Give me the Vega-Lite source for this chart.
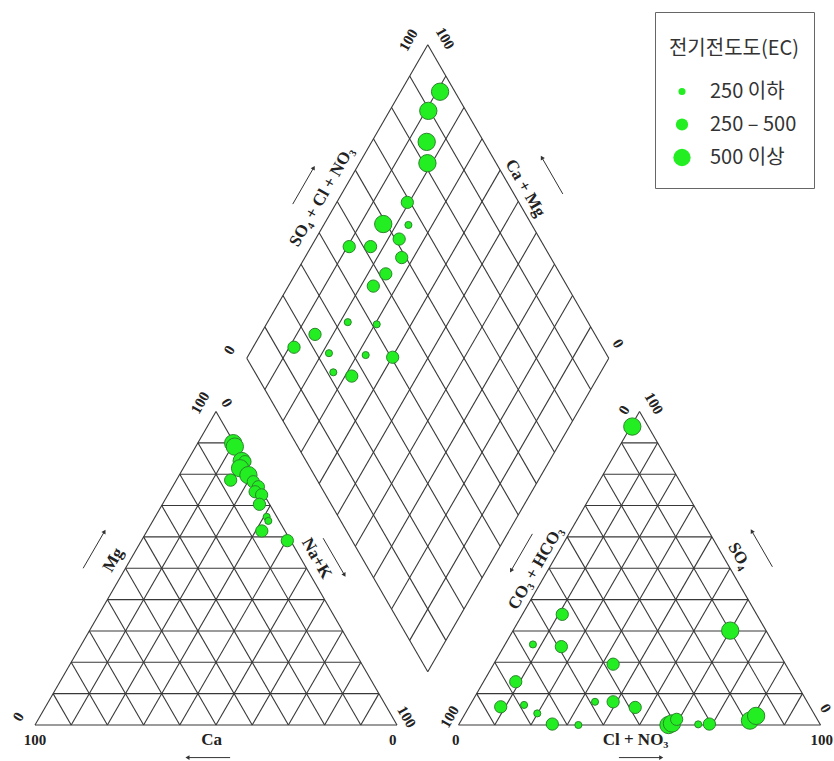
{
  "$schema": "https://vega.github.io/schema/vega-lite/v6.json",
  "description": "Piper diagram: cation triangle, anion triangle and central diamond, symbols sized by electrical conductivity (EC).",
  "width": 834,
  "height": 761,
  "padding": 0,
  "autosize": {"type": "none"},
  "background": "white",
  "config": {"view": {"stroke": null}},
  "datasets": {
    "levels": [
      {"k": 0}, {"k": 10}, {"k": 20}, {"k": 30}, {"k": 40}, {"k": 50},
      {"k": 60}, {"k": 70}, {"k": 80}, {"k": 90}, {"k": 100}
    ],
    "samples": [
      {"plot": "cation", "Ca": 0.3, "Mg": 89.9, "EC": "500 이상"},
      {"plot": "cation", "Ca": 0.4, "Mg": 88.8, "EC": "500 이상"},
      {"plot": "cation", "Ca": 0.8, "Mg": 84.2, "EC": "500 이상"},
      {"plot": "cation", "Ca": 0.0, "Mg": 84.0, "EC": "250 – 500"},
      {"plot": "cation", "Ca": 2.4, "Mg": 81.9, "EC": "500 이상"},
      {"plot": "cation", "Ca": 1.2, "Mg": 79.7, "EC": "500 이상"},
      {"plot": "cation", "Ca": 6.9, "Mg": 78.1, "EC": "250 – 500"},
      {"plot": "cation", "Ca": 0.9, "Mg": 77.6, "EC": "250 – 500"},
      {"plot": "cation", "Ca": 0.3, "Mg": 76.0, "EC": "250 – 500"},
      {"plot": "cation", "Ca": 2.0, "Mg": 74.4, "EC": "250 – 500"},
      {"plot": "cation", "Ca": 0.7, "Mg": 73.4, "EC": "250 – 500"},
      {"plot": "cation", "Ca": 2.8, "Mg": 70.4, "EC": "250 – 500"},
      {"plot": "cation", "Ca": 2.8, "Mg": 66.4, "EC": "250 이하"},
      {"plot": "cation", "Ca": 3.0, "Mg": 65.1, "EC": "250 이하"},
      {"plot": "cation", "Ca": 6.4, "Mg": 61.9, "EC": "250 – 500"},
      {"plot": "cation", "Ca": 0.9, "Mg": 58.8, "EC": "250 – 500"},

      {"plot": "anion", "Cl": 0.4, "SO4": 95.2, "EC": "500 이상"},
      {"plot": "anion", "Cl": 11.0, "SO4": 35.3, "EC": "250 – 500"},
      {"plot": "anion", "Cl": 60.0, "SO4": 30.1, "EC": "500 이상"},
      {"plot": "anion", "Cl": 7.7, "SO4": 25.7, "EC": "250 이하"},
      {"plot": "anion", "Cl": 15.9, "SO4": 25.0, "EC": "250 – 500"},
      {"plot": "anion", "Cl": 33.0, "SO4": 19.4, "EC": "250 – 500"},
      {"plot": "anion", "Cl": 8.9, "SO4": 13.8, "EC": "250 – 500"},
      {"plot": "anion", "Cl": 8.75, "SO4": 5.8, "EC": "250 – 500"},
      {"plot": "anion", "Cl": 14.9, "SO4": 6.4, "EC": "250 이하"},
      {"plot": "anion", "Cl": 19.9, "SO4": 3.7, "EC": "250 이하"},
      {"plot": "anion", "Cl": 25.75, "SO4": 0.3, "EC": "250 – 500"},
      {"plot": "anion", "Cl": 33.1, "SO4": 0.0, "EC": "250 이하"},
      {"plot": "anion", "Cl": 34.0, "SO4": 7.4, "EC": "250 이하"},
      {"plot": "anion", "Cl": 39.0, "SO4": 7.4, "EC": "250 – 500"},
      {"plot": "anion", "Cl": 46.0, "SO4": 5.6, "EC": "250 – 500"},
      {"plot": "anion", "Cl": 58.0, "SO4": 0.0, "EC": "500 이상"},
      {"plot": "anion", "Cl": 58.7, "SO4": 0.5, "EC": "500 이상"},
      {"plot": "anion", "Cl": 59.35, "SO4": 1.8, "EC": "250 – 500"},
      {"plot": "anion", "Cl": 66.1, "SO4": 0.2, "EC": "250 이하"},
      {"plot": "anion", "Cl": 69.15, "SO4": 0.3, "EC": "250 – 500"},
      {"plot": "anion", "Cl": 79.8, "SO4": 1.4, "EC": "500 이상"},
      {"plot": "anion", "Cl": 80.75, "SO4": 2.9, "EC": "500 이상"},

      {"plot": "diamond", "SO4Cl": 95.9, "CaMg": 89.1, "EC": "500 이상"},
      {"plot": "diamond", "SO4Cl": 89.6, "CaMg": 89.3, "EC": "500 이상"},
      {"plot": "diamond", "SO4Cl": 84.2, "CaMg": 84.8, "EC": "500 이상"},
      {"plot": "diamond", "SO4Cl": 81.0, "CaMg": 81.2, "EC": "500 이상"},
      {"plot": "diamond", "SO4Cl": 69.2, "CaMg": 80.5, "EC": "250 – 500"},
      {"plot": "diamond", "SO4Cl": 59.1, "CaMg": 83.7, "EC": "500 이상"},
      {"plot": "diamond", "SO4Cl": 65.9, "CaMg": 76.6, "EC": "250 이하"},
      {"plot": "diamond", "SO4Cl": 61.1, "CaMg": 76.9, "EC": "250 – 500"},
      {"plot": "diamond", "SO4Cl": 46.1, "CaMg": 89.5, "EC": "250 – 500"},
      {"plot": "diamond", "SO4Cl": 52.0, "CaMg": 83.6, "EC": "250 – 500"},
      {"plot": "diamond", "SO4Cl": 58.85, "CaMg": 73.25, "EC": "250 – 500"},
      {"plot": "diamond", "SO4Cl": 51.85, "CaMg": 75.05, "EC": "250 – 500"},
      {"plot": "diamond", "SO4Cl": 46.45, "CaMg": 76.55, "EC": "250 – 500"},
      {"plot": "diamond", "SO4Cl": 33.65, "CaMg": 77.85, "EC": "250 이하"},
      {"plot": "diamond", "SO4Cl": 41.3, "CaMg": 69.5, "EC": "250 이하"},
      {"plot": "diamond", "SO4Cl": 22.65, "CaMg": 84.95, "EC": "250 – 500"},
      {"plot": "diamond", "SO4Cl": 14.8, "CaMg": 88.7, "EC": "250 – 500"},
      {"plot": "diamond", "SO4Cl": 23.5, "CaMg": 78.1, "EC": "250 이하"},
      {"plot": "diamond", "SO4Cl": 33.35, "CaMg": 67.65, "EC": "250 이하"},
      {"plot": "diamond", "SO4Cl": 40.45, "CaMg": 59.85, "EC": "250 – 500"},
      {"plot": "diamond", "SO4Cl": 21.65, "CaMg": 73.85, "EC": "250 이하"},
      {"plot": "diamond", "SO4Cl": 26.15, "CaMg": 68.15, "EC": "250 – 500"}
    ],
    "labels": [
      {"text": "100", "x": 45.6, "y": 89.0, "dir": "up", "kind": "tick"},
      {"text": "0", "x": 53.0, "y": 89.0, "dir": "down", "kind": "tick"},
      {"text": "0", "x": -4.6, "y": 2.3, "dir": "up", "kind": "tick"},
      {"text": "100", "x": 0.0, "y": -4.1, "dir": "flat", "kind": "tick"},
      {"text": "Ca", "x": 48.8, "y": -4.1, "dir": "flat", "kind": "title"},
      {"text": "0", "x": 98.8, "y": -4.1, "dir": "flat", "kind": "tick"},
      {"text": "100", "x": 102.7, "y": 2.3, "dir": "down", "kind": "tick"},
      {"text": "Mg", "x": 21.6, "y": 45.6, "dir": "up", "kind": "title"},
      {"text": "Na+K", "x": 77.8, "y": 46.0, "dir": "down", "kind": "title"},
      {"text": "100", "x": 103.1, "y": 189.2, "dir": "up", "kind": "tick"},
      {"text": "100", "x": 113.3, "y": 189.7, "dir": "down", "kind": "tick"},
      {"text": "SO₄ + Cl + NO₃", "x": 79.2, "y": 145.9, "dir": "up", "kind": "title"},
      {"text": "Ca + Mg", "x": 135.4, "y": 148.3, "dir": "down", "kind": "title"},
      {"text": "0", "x": 53.7, "y": 103.6, "dir": "up", "kind": "tick"},
      {"text": "0", "x": 161.1, "y": 105.4, "dir": "down", "kind": "tick"},
      {"text": "0", "x": 162.7, "y": 87.0, "dir": "up", "kind": "tick"},
      {"text": "100", "x": 171.0, "y": 88.9, "dir": "down", "kind": "tick"},
      {"text": "CO₃ + HCO₃", "x": 138.3, "y": 43.3, "dir": "up", "kind": "title"},
      {"text": "SO₄", "x": 194.5, "y": 46.7, "dir": "down", "kind": "title"},
      {"text": "100", "x": 114.5, "y": 2.3, "dir": "up", "kind": "tick"},
      {"text": "0", "x": 116.2, "y": -4.1, "dir": "flat", "kind": "tick"},
      {"text": "Cl + NO₃", "x": 165.9, "y": -4.1, "dir": "flat", "kind": "title"},
      {"text": "100", "x": 217.3, "y": -4.1, "dir": "flat", "kind": "tick"},
      {"text": "0", "x": 218.4, "y": 4.6, "dir": "down", "kind": "tick"}
    ],
    "arrows": [
      {"axis": "Ca", "x": 53.9, "y": -9.0, "x2": 42.3, "y2": -9.0},
      {"axis": "Mg", "x": 13.3, "y": 43.3, "x2": 19.1, "y2": 53.3},
      {"axis": "Na+K", "x": 79.6, "y": 51.6, "x2": 85.4, "y2": 41.6},
      {"axis": "SO4+Cl+NO3", "x": 71.2, "y": 143.9, "x2": 76.9, "y2": 153.8},
      {"axis": "Ca+Mg", "x": 145.8, "y": 146.7, "x2": 140.1, "y2": 156.6},
      {"axis": "CO3+HCO3", "x": 137.4, "y": 52.8, "x2": 131.6, "y2": 42.8},
      {"axis": "SO4", "x": 203.7, "y": 43.7, "x2": 198.1, "y2": 53.4},
      {"axis": "Cl+NO3", "x": 161.3, "y": -9.0, "x2": 172.8, "y2": -9.0}
    ]
  },
  "layer": [
    {
      "description": "Grid lines every 10 % for both triangles and the diamond",
      "data": {"name": "levels"},
      "transform": [
        {"calculate": "datum.k", "as": "Mg"},
        {"calculate": "datum.k", "as": "Ca"},
        {"calculate": "datum.k", "as": "NaK"},
        {"calculate": "datum.k", "as": "SO4"},
        {"calculate": "datum.k", "as": "HCO3"},
        {"calculate": "datum.k", "as": "Cl"},
        {"calculate": "datum.k", "as": "SO4Cl"},
        {"calculate": "datum.k", "as": "CaMg"},
        {"fold": ["Mg", "Ca", "NaK", "SO4", "HCO3", "Cl", "SO4Cl", "CaMg"], "as": ["fam", "lv"]},
        {"calculate": "indexof(['SO4', 'HCO3', 'Cl'], datum.fam) >= 0 ? 117 : 0", "as": "off"},
        {"calculate": "(datum.fam === 'Mg' || datum.fam === 'SO4') ? datum.off + datum.lv / 2 : (datum.fam === 'Ca' || datum.fam === 'HCO3') ? datum.off + 100 - datum.lv : (datum.fam === 'NaK' || datum.fam === 'Cl') ? datum.off + datum.lv : datum.fam === 'SO4Cl' ? 108.5 + datum.lv / 2 : 108.5 - datum.lv / 2", "as": "xa"},
        {"calculate": "(datum.fam === 'Mg' || datum.fam === 'SO4') ? datum.lv * 0.8660254 : (datum.fam === 'SO4Cl' || datum.fam === 'CaMg') ? 14.7224 + 0.8660254 * datum.lv : 0", "as": "ya"},
        {"calculate": "(datum.fam === 'Mg' || datum.fam === 'SO4') ? datum.off + 100 - datum.lv / 2 : (datum.fam === 'Ca' || datum.fam === 'HCO3') ? datum.off + (100 - datum.lv) / 2 : (datum.fam === 'NaK' || datum.fam === 'Cl') ? datum.off + 50 + datum.lv / 2 : datum.fam === 'SO4Cl' ? 108.5 + (datum.lv - 100) / 2 : 108.5 + (100 - datum.lv) / 2", "as": "xb"},
        {"calculate": "(datum.fam === 'Mg' || datum.fam === 'SO4') ? datum.lv * 0.8660254 : (datum.fam === 'SO4Cl' || datum.fam === 'CaMg') ? 14.7224 + 0.8660254 * (datum.lv + 100) : (100 - datum.lv) * 0.8660254", "as": "yb"}
      ],
      "mark": {"type": "rule", "color": "#383838", "strokeWidth": 1.1},
      "encoding": {
        "x": {"field": "xa", "type": "quantitative", "axis": null, "scale": {"domain": [-9.669, 220.718], "nice": false, "zero": false}},
        "y": {"field": "ya", "type": "quantitative", "axis": null, "scale": {"domain": [-9.945, 200.276], "nice": false, "zero": false}},
        "x2": {"field": "xb"},
        "y2": {"field": "yb"}
      }
    },
    {
      "description": "Direction arrows beside each axis title",
      "data": {"name": "arrows"},
      "mark": {"type": "rule", "color": "#333333", "strokeWidth": 1},
      "encoding": {
        "x": {"field": "x", "type": "quantitative", "axis": null, "scale": {"domain": [-9.669, 220.718], "nice": false, "zero": false}},
        "y": {"field": "y", "type": "quantitative", "axis": null, "scale": {"domain": [-9.945, 200.276], "nice": false, "zero": false}},
        "x2": {"field": "x2"},
        "y2": {"field": "y2"}
      }
    },
    {
      "data": {"name": "arrows"},
      "transform": [
        {"calculate": "atan2(datum.x2 - datum.x, datum.y2 - datum.y) * 180 / PI", "as": "ang"}
      ],
      "mark": {"type": "point", "shape": "triangle", "filled": true, "color": "#333333", "opacity": 1, "size": 22},
      "encoding": {
        "x": {"field": "x2", "type": "quantitative", "axis": null, "scale": {"domain": [-9.669, 220.718], "nice": false, "zero": false}},
        "y": {"field": "y2", "type": "quantitative", "axis": null, "scale": {"domain": [-9.945, 200.276], "nice": false, "zero": false}},
        "angle": {"field": "ang", "type": "quantitative", "scale": null}
      }
    },
    {
      "description": "Samples projected onto the Piper plot",
      "data": {"name": "samples"},
      "transform": [
        {"calculate": "datum.plot === 'cation' ? (100 - datum.Ca - datum.Mg) + datum.Mg / 2 : datum.plot === 'anion' ? 117 + datum.Cl + datum.SO4 / 2 : 108.5 + (datum.SO4Cl - datum.CaMg) / 2", "as": "px"},
        {"calculate": "datum.plot === 'cation' ? datum.Mg * 0.8660254 : datum.plot === 'anion' ? datum.SO4 * 0.8660254 : 14.7224 + 0.8660254 * (datum.SO4Cl + datum.CaMg)", "as": "py"}
      ],
      "mark": {"type": "circle", "fill": "#22ee22", "stroke": "#2b862b", "strokeWidth": 1, "opacity": 1},
      "encoding": {
        "x": {"field": "px", "type": "quantitative", "axis": null, "scale": {"domain": [-9.669, 220.718], "nice": false, "zero": false}},
        "y": {"field": "py", "type": "quantitative", "axis": null, "scale": {"domain": [-9.945, 200.276], "nice": false, "zero": false}},
        "size": {
          "field": "EC",
          "type": "ordinal",
          "scale": {"type": "ordinal", "domain": ["250 이하", "250 – 500", "500 이상"], "range": [50, 150, 300]},
          "legend": {
            "title": ["", "전기전도도(EC)"],
            "orient": "none",
            "legendX": 655,
            "legendY": 12,
            "padding": 14,
            "fillColor": "white",
            "strokeColor": "#666666",
            "titleAnchor": "middle",
            "titleFont": "Noto Sans CJK KR",
            "titleFontSize": 20,
            "titleLineHeight": 13,
            "titleFontWeight": "normal",
            "titleColor": "#333333",
            "titlePadding": 16,
            "titleLimit": 400,
            "labelFont": "Noto Sans CJK KR",
            "labelFontSize": 20,
            "labelColor": "#333333",
            "labelOffset": 18,
            "rowPadding": 0,
            "clipHeight": 33,
            "symbolType": "circle",
            "symbolFillColor": "#22ee22",
            "symbolStrokeColor": "#2b862b",
            "symbolStrokeWidth": 1,
            "symbolOpacity": 1
          }
        }
      }
    },
    {
      "data": {"name": "labels"},
      "transform": [{"filter": "datum.dir === 'flat'"}],
      "mark": {"type": "text", "font": "Liberation Serif", "fontWeight": "bold", "color": "#222222", "align": "center", "baseline": "middle"},
      "encoding": {
        "x": {"field": "x", "type": "quantitative", "axis": null, "scale": {"domain": [-9.669, 220.718], "nice": false, "zero": false}},
        "y": {"field": "y", "type": "quantitative", "axis": null, "scale": {"domain": [-9.945, 200.276], "nice": false, "zero": false}},
        "text": {"field": "text"},
        "size": {"condition": {"test": "datum.kind === 'title'", "value": 17}, "value": 15}
      }
    },
    {
      "data": {"name": "labels"},
      "transform": [{"filter": "datum.dir === 'up'"}],
      "mark": {"type": "text", "font": "Liberation Serif", "fontWeight": "bold", "color": "#222222", "align": "center", "baseline": "middle", "angle": -60},
      "encoding": {
        "x": {"field": "x", "type": "quantitative", "axis": null, "scale": {"domain": [-9.669, 220.718], "nice": false, "zero": false}},
        "y": {"field": "y", "type": "quantitative", "axis": null, "scale": {"domain": [-9.945, 200.276], "nice": false, "zero": false}},
        "text": {"field": "text"},
        "size": {"condition": {"test": "datum.kind === 'title'", "value": 17}, "value": 15}
      }
    },
    {
      "data": {"name": "labels"},
      "transform": [{"filter": "datum.dir === 'down'"}],
      "mark": {"type": "text", "font": "Liberation Serif", "fontWeight": "bold", "color": "#222222", "align": "center", "baseline": "middle", "angle": 60},
      "encoding": {
        "x": {"field": "x", "type": "quantitative", "axis": null, "scale": {"domain": [-9.669, 220.718], "nice": false, "zero": false}},
        "y": {"field": "y", "type": "quantitative", "axis": null, "scale": {"domain": [-9.945, 200.276], "nice": false, "zero": false}},
        "text": {"field": "text"},
        "size": {"condition": {"test": "datum.kind === 'title'", "value": 17}, "value": 15}
      }
    }
  ]
}
